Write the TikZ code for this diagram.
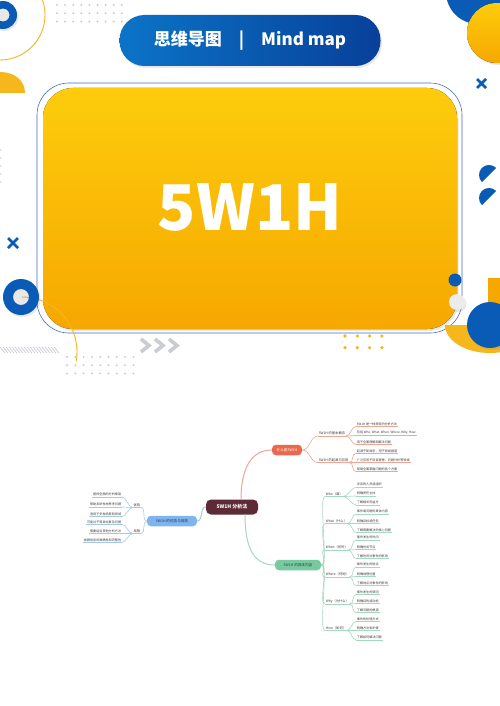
\documentclass[tikz,border=0pt]{standalone}
\usepackage{fontspec}
\setmainfont{Noto Sans CJK SC}
\usepackage{tikz}
\usetikzlibrary{positioning,shadows}

\definecolor{bannerL}{HTML}{0B74C7}
\definecolor{bannerR}{HTML}{08409A}
\definecolor{deepblue}{HTML}{0A5BB6}
\definecolor{sunTop}{HTML}{FDCC0C}
\definecolor{sunBot}{HTML}{F6A800}
\definecolor{sunDot}{HTML}{F5B71C}
\definecolor{frameblue}{HTML}{4371B9}
\definecolor{dotgray}{HTML}{C9CCD3}
\definecolor{rootred}{HTML}{5C2B36}
\definecolor{redfill}{HTML}{E8694D}
\definecolor{redline}{HTML}{F0A595}
\definecolor{greenfill}{HTML}{79C9A0}
\definecolor{greenline}{HTML}{A3D9BE}
\definecolor{greentext}{HTML}{1F4D3A}
\definecolor{bluefill}{HTML}{7FB4EC}
\definecolor{blueline}{HTML}{A6C8EE}
\definecolor{bluetext}{HTML}{1D3B66}
\definecolor{leaftext}{HTML}{3A3A3A}

\tikzset{
  softshadow/.style={drop shadow={opacity=0.18,shadow xshift=1.5pt,shadow yshift=-2pt}},
  banner/.style={left color=bannerL, right color=bannerR, rounded corners=25pt,
    minimum width=261pt, minimum height=51pt, text=white, softshadow,
    font=\bfseries\fontsize{17}{17}\selectfont},
  rootbox/.style={fill=rootred, text=white, rounded corners=5pt, minimum width=52pt,
    minimum height=15pt, inner sep=1pt, font=\bfseries\fontsize{5}{6}\selectfont},
  catbox/.style={rounded corners=4pt, minimum height=10.5pt, inner sep=2pt,
    font=\fontsize{3.6}{4.2}\selectfont},
  sublabel/.style={anchor=south west, inner sep=0.7pt, text=leaftext,
    font=\fontsize{3.3}{3.9}\selectfont},
  leaflabel/.style={anchor=south west, inner sep=0.7pt, text=leaftext,
    font=\fontsize{3.1}{3.7}\selectfont},
  redlink/.style={draw=redline, line width=0.6pt},
  greenlink/.style={draw=greenline, line width=0.6pt},
  bluelink/.style={draw=blueline, line width=0.6pt}
}

\begin{document}
\begin{tikzpicture}[x=1pt,y=-1pt]
\useasboundingbox (0,0) rectangle (500,706);
\clip (0,0) rectangle (500,706);
\fill[white] (0,0) rectangle (500,706);

% top left corner
\draw[sunDot, line width=0.9pt] (0,15) circle (45);
\fill[deepblue, even odd rule, softshadow] (3,15) circle (14) (3,15) circle (6.5);
\foreach \i in {0,...,8}
  \foreach \j in {0,1,2}
    \fill[dotgray] (57+8.1*\i,5+8.3*\j) circle (1.1);
\fill[sunDot] (0,93) -- (0,72) .. controls (14,72) and (25,80) .. (25,93) -- cycle;

% top right corner
\fill[deepblue] (478,-8) circle (32);
\fill[top color=sunTop, bottom color=sunBot, softshadow] (497,33) circle (30);
\draw[deepblue, line width=2.8pt] (477,79) -- (486,88) (477,88) -- (486,79);

% title banner
\node[banner] (banner) at (250,40.5) {思维导图\quad|\quad Mind map};

% main card
\draw[frameblue, line width=0.6pt, rounded corners=32pt] (37,83) rectangle (462,333);
\fill[top color=sunTop, bottom color=sunBot, rounded corners=30pt, softshadow] (43,88) rectangle (457,329);
\node[text=white, font=\bfseries\fontsize{63}{63}\selectfont] (title) at (250,207) {5W1H};

% left side bits
\draw[deepblue, line width=2.8pt] (8,238) -- (18,248) (8,248) -- (18,238);
\foreach \k in {0,...,4}
  \fill[dotgray] (0.6,150+8*\k) circle (0.8);
\draw[sunDot, line width=0.9pt] (22,352) ++(-90:55) arc[start angle=-90, end angle=10, radius=55];
\fill[deepblue, even odd rule, softshadow] (21,297) circle (18) (21,297) circle (8);
\foreach \x in {0,3,...,54}
  \draw[dotgray, line width=0.7pt] (\x,347) -- (\x+5,353);
\foreach \i in {0,...,8}
  \foreach \j in {0,1,2}
    \fill[dotgray] (67+8.3*\i,357+8.2*\j) circle (1.1);
\foreach \x in {141,155,169}
  \draw[dotgray, line width=3.6pt] (\x,339) -- (\x+8,345.5) -- (\x,352);

% right side bits
\fill[deepblue] (489,175) ++(-45:10) arc[start angle=-45, end angle=-225, radius=10] -- cycle;
\fill[deepblue] (489,198) ++(-45:10) arc[start angle=-45, end angle=-225, radius=10] -- cycle;
\foreach \i in {0,...,3}
  \foreach \j in {0,1}
    \fill[sunDot] (345+12.3*\i,336+11.7*\j) circle (1.8);
\fill[deepblue] (455,280) circle (6.5);
\fill[gray!15, softshadow] (457,302) circle (8);
\fill[sunBot] (488,278) rectangle (500,330);
\fill[sunDot] (445,325) arc[start angle=180, end angle=0, x radius=45, y radius=28] -- cycle;
\fill[deepblue, softshadow] (490,325) circle (23);

% mind map
\node[rootbox] (root) at (232,507) {5W1H 分析法};
\node[catbox, fill=redfill, text=white, minimum width=30pt] (intro) at (287,450) {什么是5W1H};
\node[catbox, fill=greenfill, text=greentext, minimum width=46pt] (content) at (298,565) {5W1H 的具体内容};
\node[catbox, fill=bluefill, text=bluetext, minimum width=50pt] (proscons) at (172,521) {5W1H 的优势与局限};

\draw[redlink, line width=1pt] ([xshift=9pt]root.north) .. controls +(0,-35) and +(-18,0) .. (intro.west);
\draw[greenlink, line width=1pt] ([xshift=13pt]root.south) .. controls +(0,35) and +(-20,0) .. (content.west);
\draw[bluelink, line width=1pt] (root.west) .. controls +(-6,0) and +(6,0) .. (proscons.east);

% what is 5W1H
\node[sublabel] (concept) at (318,436) {5W1H 的基本概念};
\node[sublabel] (origin) at (318,462.5) {5W1H 的起源与应用};
\node[leaflabel] (concept1) at (356,426.5) {5W1H 是一种常用的分析方法};
\node[leaflabel] (concept2) at (356,435.5) {包括 Who, What, When, Where, Why, How};
\node[leaflabel] (concept3) at (356,444.5) {用于全面理解和解决问题};
\node[leaflabel] (origin1) at (356,453.5) {起源于新闻学，用于新闻报道};
\node[leaflabel] (origin2) at (356,462.5) {广泛应用于项目管理、问题分析等领域};
\node[leaflabel] (origin3) at (356,471.5) {帮助全面掌握问题的各个方面};
\foreach \n in {concept,origin}
  \draw[redlink] (intro.east) .. controls +(8,0) and +(-8,0) .. (\n.south west);
\foreach \n in {concept1,concept2,concept3}
  \draw[redlink] (concept.south east) .. controls +(5,0) and +(-5,0) .. (\n.south west);
\foreach \n in {origin1,origin2,origin3}
  \draw[redlink] (origin.south east) .. controls +(5,0) and +(-5,0) .. (\n.south west);
\foreach \n in {concept,origin,concept1,concept2,concept3,origin1,origin2,origin3}
  \draw[redlink] (\n.south west) -- (\n.south east);

% the six questions
\node[sublabel] (who) at (325,496.5) {Who（谁）};
\node[sublabel] (what) at (325,523.5) {What（什么）};
\node[sublabel] (when) at (325,550) {When（何时）};
\node[sublabel] (where) at (325,577) {Where（何地）};
\node[sublabel] (why) at (325,604) {Why（为什么）};
\node[sublabel] (how) at (325,630.5) {How（如何）};
\node[leaflabel] (who1) at (356,487) {涉及的人员或组织};
\node[leaflabel] (who2) at (356,496) {明确责任主体};
\node[leaflabel] (who3) at (356,505) {了解相关利益方};
\node[leaflabel] (what1) at (356,514) {事件或问题的具体内容};
\node[leaflabel] (what2) at (356,523.5) {明确目标或任务};
\node[leaflabel] (what3) at (356,532.5) {了解需要解决的核心问题};
\node[leaflabel] (when1) at (356,540) {事件发生的时间};
\node[leaflabel] (when2) at (356,549.5) {明确时间节点};
\node[leaflabel] (when3) at (356,558.5) {了解时间对事件的影响};
\node[leaflabel] (where1) at (356,567) {事件发生的地点};
\node[leaflabel] (where2) at (356,576.5) {明确地理位置};
\node[leaflabel] (where3) at (356,585.5) {了解地点对事件的影响};
\node[leaflabel] (why1) at (356,594.5) {事件发生的原因};
\node[leaflabel] (why2) at (356,603.5) {明确目的或动机};
\node[leaflabel] (why3) at (356,612.5) {了解问题的根源};
\node[leaflabel] (how1) at (356,621.5) {事件的处理方式};
\node[leaflabel] (how2) at (356,630.5) {明确方法和步骤};
\node[leaflabel] (how3) at (356,640) {了解如何解决问题};
\foreach \n in {who,what,when,where,why,how}
  \draw[greenlink] (content.east) .. controls +(8,0) and +(-7,0) .. (\n.south west);
\foreach \n in {who,what,when,where,why,how}
  \foreach \k in {1,2,3}
    \draw[greenlink] (\n.south east) .. controls +(4,0) and +(-4,0) .. (\n\k.south west);
\foreach \n in {who,what,when,where,why,how}
  \foreach \k in {,1,2,3}
    \draw[greenlink] (\n\k.south west) -- (\n\k.south east);

% pros and cons
\node[sublabel, anchor=south east] (pros) at (141,507.5) {优势};
\node[sublabel, anchor=south east] (cons) at (141,533.5) {局限};
\node[leaflabel, anchor=south east] (pros1) at (122,497) {提供全面的分析框架};
\node[leaflabel, anchor=south east] (pros2) at (122,507) {帮助系统性地思考问题};
\node[leaflabel, anchor=south east] (pros3) at (122,516.5) {适用于多种场景和领域};
\node[leaflabel, anchor=south east] (cons1) at (122,524.5) {可能过于简单化复杂问题};
\node[leaflabel, anchor=south east] (cons2) at (122,533.5) {需要结合其他分析方法};
\node[leaflabel, anchor=south east] (cons3) at (122,542.5) {依赖信息的准确性和完整性};
\foreach \n in {pros,cons}
  \draw[bluelink] (proscons.west) .. controls +(-5,0) and +(5,0) .. (\n.south east);
\foreach \n in {pros,cons}
  \foreach \k in {1,2,3}
    \draw[bluelink] (\n.south west) .. controls +(-4,0) and +(4,0) .. (\n\k.south east);
\foreach \n in {pros,cons}
  \foreach \k in {,1,2,3}
    \draw[bluelink] (\n\k.south west) -- (\n\k.south east);
\end{tikzpicture}
\end{document}
